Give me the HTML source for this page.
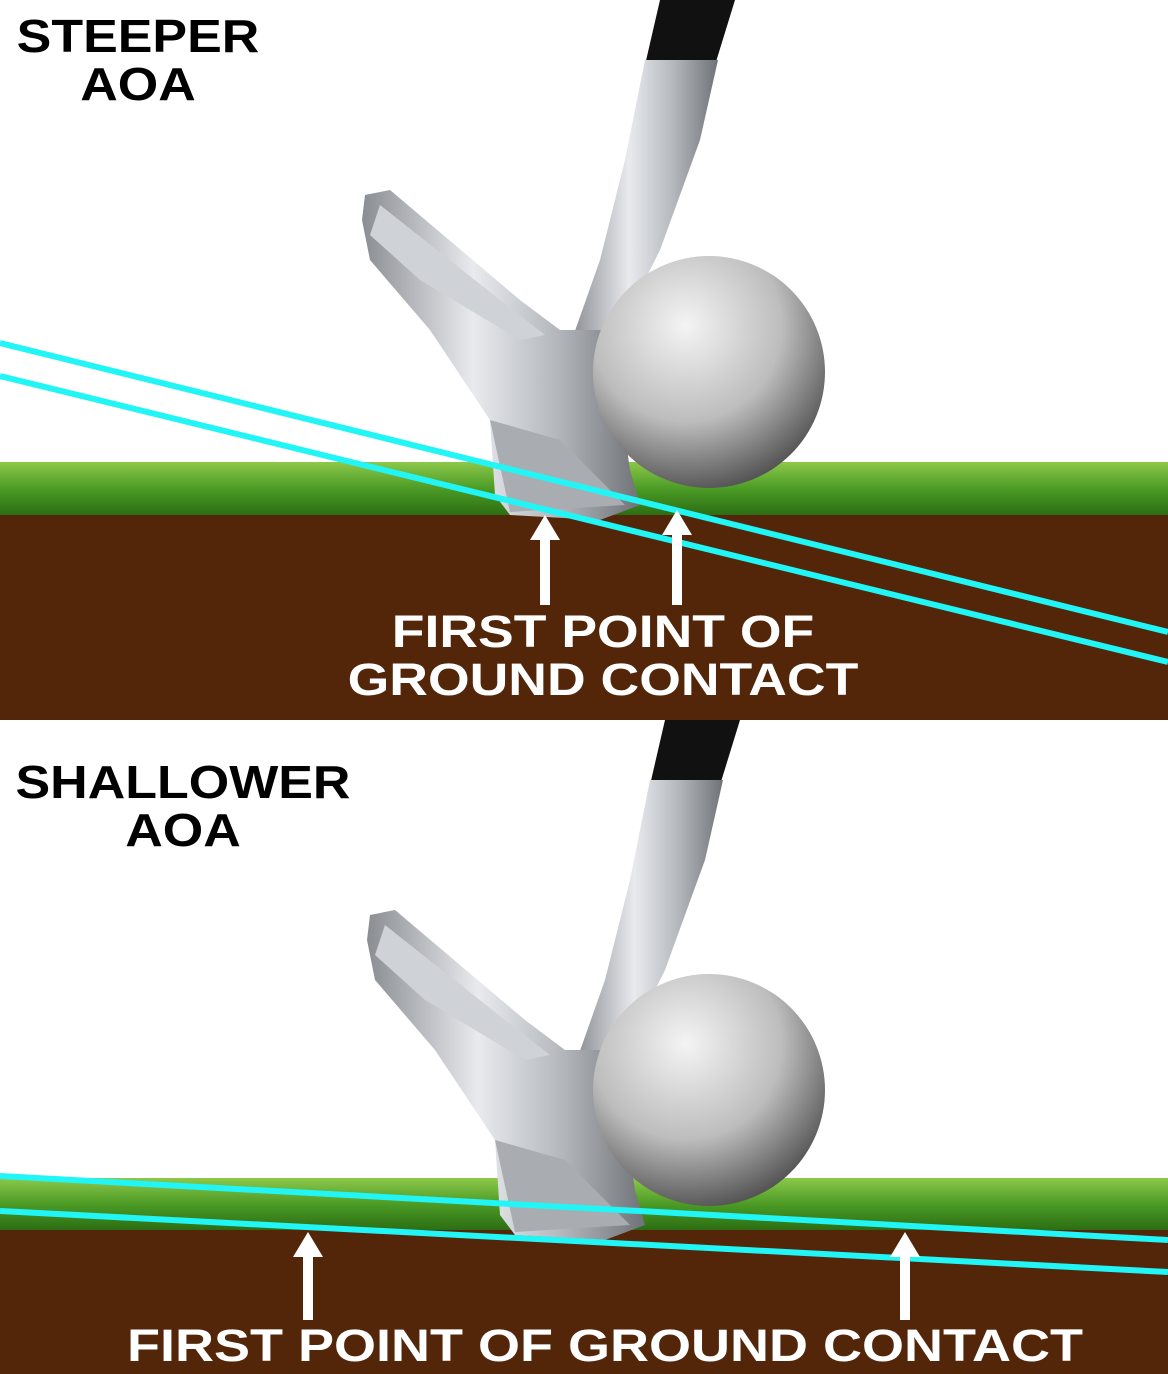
<!DOCTYPE html>
<html><head><meta charset="utf-8"><style>
html,body{margin:0;padding:0;background:#fff;}
body{width:1168px;height:1374px;overflow:hidden;position:relative;font-family:"Liberation Sans",sans-serif;}
.t{position:absolute;font-weight:bold;text-align:center;line-height:48px;font-size:46px;}
</style></head><body>
<svg width="1168" height="1374" style="position:absolute;left:0;top:0">
<defs>
<linearGradient id="grass" x1="0" y1="0" x2="0" y2="1">
<stop offset="0" stop-color="#8cc84a"/><stop offset="0.5" stop-color="#4a9a25"/><stop offset="1" stop-color="#2a6a12"/></linearGradient>
<radialGradient id="ball" cx="0.4" cy="0.3" r="0.75">
<stop offset="0" stop-color="#f4f4f4"/><stop offset="0.55" stop-color="#bdbdbd"/><stop offset="1" stop-color="#4a4a4a"/></radialGradient>
<linearGradient id="steel" x1="0" y1="0" x2="1" y2="0">
<stop offset="0" stop-color="#8a8d92"/><stop offset="0.4" stop-color="#e8eaee"/><stop offset="0.7" stop-color="#b4b8bd"/><stop offset="1" stop-color="#6f7378"/></linearGradient>
<g id="club">
<path d="M660,0 L735,0 L715,65 L645,65 Z" fill="#111"/>
<path d="M645,60 L718,60 L700,140 L660,250 L625,320 L570,345 L600,260 L625,160 Z" fill="url(#steel)"/>
<path d="M365,195 L390,190 L520,300 L560,330 L610,330 L630,470 L640,505 L600,520 L510,515 L495,495 L490,420 L430,330 L370,260 L362,220 Z" fill="url(#steel)"/>
<path d="M380,205 L500,300 L545,335 L520,340 L420,280 L370,235 Z" fill="#cfd2d6"/>
<path d="M490,420 L560,440 L625,505 L510,512 Z" fill="#a9adb2"/>
</g>
</defs>
<rect x="0" y="462" width="1168" height="55" fill="url(#grass)"/>
<rect x="0" y="515" width="1168" height="205" fill="#532609"/>
<use href="#club"/>
<circle cx="709" cy="372" r="116" fill="url(#ball)"/>
<line x1="0" y1="343" x2="1168" y2="632" stroke="#22f5f5" stroke-width="6"/>
<line x1="0" y1="376" x2="1168" y2="662" stroke="#22f5f5" stroke-width="6"/>
<g fill="#fff"><rect x="540" y="535" width="10" height="70"/><polygon points="545,515 530,540 560,540"/>
<rect x="672" y="530" width="10" height="75"/><polygon points="677,510 662,535 692,535"/></g>
<rect x="0" y="1178" width="1168" height="54" fill="url(#grass)"/>
<rect x="0" y="1230" width="1168" height="144" fill="#532609"/>
<use href="#club" transform="translate(5,720)"/>
<circle cx="709" cy="1090" r="116" fill="url(#ball)"/>
<line x1="0" y1="1176" x2="1168" y2="1240" stroke="#22f5f5" stroke-width="6"/>
<line x1="0" y1="1211" x2="1168" y2="1272" stroke="#22f5f5" stroke-width="6"/>
<g fill="#fff"><rect x="303" y="1252" width="10" height="68"/><polygon points="308,1232 293,1257 323,1257"/>
<rect x="900" y="1252" width="10" height="68"/><polygon points="905,1232 890,1257 920,1257"/></g>
</svg>
<div class="t" style="left:0;width:276px;top:12px;color:#000;transform:scaleX(1.13)">STEEPER<br>AOA</div>
<div class="t" style="left:0;width:366px;top:758px;color:#000;transform:scaleX(1.13)">SHALLOWER<br>AOA</div>
<div class="t" style="left:300px;width:606px;top:608px;color:#fff;font-size:45px;transform:scaleX(1.19)">FIRST POINT OF<br>GROUND CONTACT</div>
<div class="t" style="left:0;width:1210px;top:1322px;color:#fff;font-size:45px;transform:scaleX(1.2)">FIRST POINT OF GROUND CONTACT</div>
</body></html>
